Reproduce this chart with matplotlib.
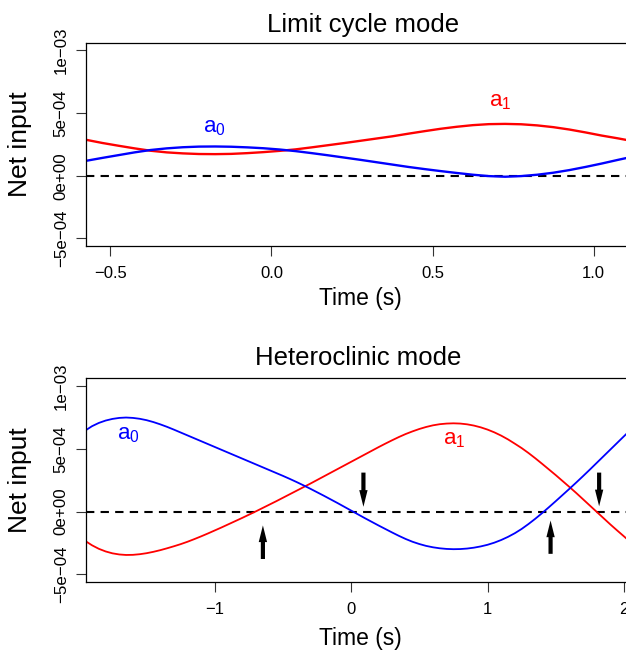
import matplotlib
matplotlib.use("Agg")
import matplotlib.pyplot as plt
import numpy as np

plt.rcParams['font.family'] = ['Liberation Sans', 'DejaVu Sans']
plt.rcParams['mathtext.default'] = 'regular'

# ---------------- data (values in units of 1e-4) ----------------
top_t = [-0.575, -0.525, -0.475, -0.425, -0.375, -0.325, -0.275, -0.225, -0.175,
         -0.125, -0.075, -0.025, 0.025, 0.075, 0.125, 0.175, 0.225, 0.275, 0.325,
         0.375, 0.425, 0.475, 0.525, 0.575, 0.625, 0.675, 0.725, 0.775, 0.825,
         0.875, 0.925, 0.975, 1.025, 1.075, 1.100]
top_a0 = [1.19, 1.42, 1.64, 1.86, 2.05, 2.18, 2.27, 2.32, 2.33,
          2.31, 2.26, 2.19, 2.09, 1.96, 1.80, 1.63, 1.45, 1.27, 1.08,
          0.89, 0.70, 0.53, 0.37, 0.22, 0.08, -0.03, -0.08, -0.03, 0.08,
          0.24, 0.45, 0.70, 0.97, 1.26, 1.40]
top_a1 = [2.86, 2.61, 2.39, 2.18, 1.99, 1.86, 1.78, 1.73, 1.72,
          1.74, 1.80, 1.88, 1.98, 2.10, 2.26, 2.43, 2.60, 2.78, 2.96,
          3.14, 3.35, 3.55, 3.74, 3.90, 4.03, 4.11, 4.13, 4.10, 4.01,
          3.87, 3.68, 3.45, 3.20, 2.98, 2.86]

bot_t = [-1.95, -1.90, -1.85, -1.80, -1.75, -1.70, -1.65, -1.60, -1.55, -1.50,
         -1.45, -1.40, -1.35, -1.30, -1.25, -1.20, -1.15, -1.10, -1.05, -1.00,
         -0.95, -0.90, -0.85, -0.80, -0.75, -0.70, -0.65, -0.60, -0.55, -0.50,
         -0.45, -0.40, -0.35, -0.30, -0.25, -0.20, -0.15, -0.10, -0.05, 0.00,
         0.05, 0.10, 0.15, 0.20, 0.25, 0.30, 0.35, 0.40, 0.45, 0.50,
         0.55, 0.60, 0.65, 0.70, 0.75, 0.80, 0.85, 0.90, 0.95, 1.00,
         1.05, 1.10, 1.15, 1.20, 1.25, 1.30, 1.35, 1.40, 1.45, 1.50,
         1.55, 1.60, 1.65, 1.70, 1.75, 1.80, 1.85, 1.90, 1.95, 2.00, 2.02]
bot_a0 = [6.44, 6.79, 7.05, 7.24, 7.37, 7.45, 7.48, 7.45, 7.38, 7.27,
          7.12, 6.94, 6.74, 6.52, 6.29, 6.06, 5.83, 5.60, 5.37, 5.14,
          4.91, 4.68, 4.45, 4.22, 3.99, 3.76, 3.53, 3.30, 3.07, 2.84,
          2.60, 2.35, 2.09, 1.82, 1.54, 1.26, 0.97, 0.68, 0.38, 0.08,
          -0.22, -0.52, -0.81, -1.10, -1.38, -1.66, -1.93, -2.18, -2.40, -2.58,
          -2.73, -2.84, -2.92, -2.97, -2.99, -2.98, -2.94, -2.87, -2.77, -2.64,
          -2.47, -2.26, -2.01, -1.72, -1.38, -0.99, -0.57, -0.12, 0.35, 0.83,
          1.32, 1.81, 2.31, 2.82, 3.34, 3.87, 4.40, 4.93, 5.46, 5.99, 6.20]
bot_a1 = [-2.33, -2.68, -2.96, -3.17, -3.32, -3.41, -3.45, -3.44, -3.39, -3.31,
          -3.20, -3.07, -2.92, -2.76, -2.59, -2.40, -2.19, -1.97, -1.74, -1.50,
          -1.26, -1.01, -0.76, -0.51, -0.25, 0.01, 0.28, 0.55, 0.82, 1.10,
          1.38, 1.66, 1.94, 2.22, 2.51, 2.80, 3.09, 3.38, 3.67, 3.96,
          4.25, 4.54, 4.83, 5.12, 5.40, 5.67, 5.93, 6.17, 6.38, 6.57,
          6.73, 6.86, 6.95, 7.00, 7.02, 7.00, 6.94, 6.84, 6.70, 6.52,
          6.30, 6.04, 5.74, 5.40, 5.05, 4.66, 4.24, 3.80, 3.35, 2.90,
          2.43, 1.96, 1.48, 0.98, 0.48, -0.02, -0.52, -1.02, -1.50, -1.97, -2.16]

# arrows in heteroclinic panel: x, tail, tip (1e-4)
arrow_x = [-0.647, 0.090, 1.462, 1.818]
arrow_tail = [-3.77, 3.10, -3.36, 3.10]
arrow_tip = [-1.10, 0.38, -0.71, 0.42]

titles = ["Limit cycle mode", "Heteroclinic mode"]
ytick_vals = [-5e-4, 0, 5e-4, 1e-3]
ytick_labels = ["\u22125e\u221204", "0e+00", "5e\u221204", "1e\u221203"]
top_xticks = [-0.5, 0.0, 0.5, 1.0]
top_xticklabels = ["\u22120.5", "0.0", "0.5", "1.0"]
bot_xticks = [-1, 0, 1, 2]
bot_xticklabels = ["\u22121", "0", "1", "2"]

RED = '#FF0000'
BLUE = '#0000FF'
scale = 1e-4

W, H = 626, 653
fig = plt.figure(figsize=(W / 100, H / 100), dpi=100)

def px(x0, y0, x1, y1):
    return [x0 / W, 1 - y1 / H, (x1 - x0) / W, (y1 - y0) / H]

ax1 = fig.add_axes(px(86.4, 42.7, 626, 246))
ax2 = fig.add_axes(px(86.4, 378.3, 626, 582))

def style(ax, xlim, xt, xtl):
    ax.set_xlim(*xlim)
    ax.set_ylim(-5.6e-4, 1.06e-3)
    for s in ['top', 'left', 'bottom']:
        ax.spines[s].set_linewidth(0.9)
        ax.spines[s].set_color('black')
    ax.spines['right'].set_visible(False)
    ax.set_yticks(ytick_vals)
    ax.set_yticklabels(ytick_labels, rotation=90, va='center', fontsize=12.2)
    ax.set_xticks(xt)
    ax.set_xticklabels(xtl, fontsize=12)
    ax.tick_params(axis='both', direction='out', length=7.2, width=0.8, color='#333333')
    ax.tick_params(axis='y', pad=5.5)
    ax.tick_params(axis='x', pad=7.5)
    ax.axhline(0, color='black', lw=1.5, dashes=(4, 3))

style(ax1, (-0.5745, 1.1006), top_xticks, top_xticklabels)
style(ax2, (-1.941, 2.015), bot_xticks, bot_xticklabels)

ax1.plot(top_t, np.array(top_a1) * scale, color=RED, lw=1.7)
ax1.plot(top_t, np.array(top_a0) * scale, color=BLUE, lw=1.7)
ax2.plot(bot_t, np.array(bot_a1) * scale, color=RED, lw=1.3)
ax2.plot(bot_t, np.array(bot_a0) * scale, color=BLUE, lw=1.3)

ax1.text(-0.214, 3.44e-4, r'$a_0$', color=BLUE, fontsize=16, ha='left', va='baseline')
ax1.text(0.675, 5.5e-4, r'$a_1$', color=RED, fontsize=16, ha='left', va='baseline')
ax2.text(-1.72, 5.75e-4, r'$a_0$', color=BLUE, fontsize=16, ha='left', va='baseline')
ax2.text(0.675, 5.35e-4, r'$a_1$', color=RED, fontsize=16, ha='left', va='baseline')

for x, tail, tip in zip(arrow_x, arrow_tail, arrow_tip):
    ax2.annotate('', xy=(x, tip * scale), xytext=(x, tail * scale),
                 arrowprops=dict(arrowstyle='simple,head_length=1.2,head_width=0.6,tail_width=0.3',
                                 mutation_scale=10, fc='black', ec='none', lw=0,
                                 shrinkA=0, shrinkB=0))

# titles and axis labels (figure coords from pixel positions)
fig.text(363 / W, 1 - 31.7 / H, titles[0], fontsize=18.5, ha='center', va='baseline')
fig.text(358 / W, 1 - 365 / H, titles[1], fontsize=18.5, ha='center', va='baseline')
for yb in (305, 645):
    fig.text(360 / W, 1 - yb / H, "Time (s)", fontsize=16.5, ha='center', va='baseline')
for yc in (144.4, 480.2):
    fig.text(20 / W, 1 - yc / H, "Net input", fontsize=19, rotation=90, ha='center', va='center')

fig.savefig('out.png', dpi=100)
